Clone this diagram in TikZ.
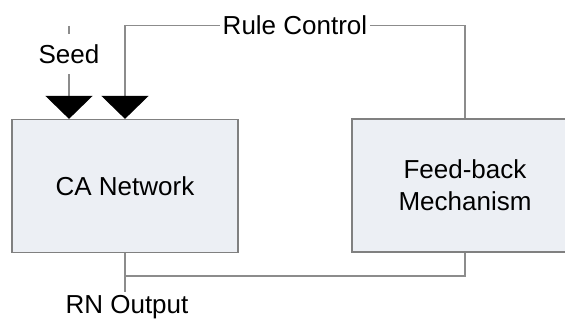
\documentclass[tikz,border=0pt]{standalone}
\usepackage{fontspec}
\setmainfont{Liberation Sans}
\usetikzlibrary{arrows.meta}
\definecolor{boxfill}{HTML}{ECEFF4}
\definecolor{boxline}{HTML}{808080}
\definecolor{wirecol}{HTML}{8C8C8C}
\begin{document}
\begin{tikzpicture}[x=1pt,y=-1pt,
  txt/.style={font=\fontsize{26}{32}\selectfont},
  box/.style={txt, draw=boxline, fill=boxfill, line width=1.2pt,
    minimum width=226pt, minimum height=133pt, inner sep=0pt, align=center},
  lbl/.style={txt, inner sep=0pt},
  wire/.style={draw=wirecol, line width=1.2pt},
  feed/.style={wire, -{Triangle[width=47pt,length=23pt,color=black]}}]
  \path[use as bounding box, clip] (0,0) rectangle (565,320);

  % blocks
  \node[box] (ca) at (125,186) {CA Network};
  \node[box] (fb) at (465,185.5) {Feed-back\\Mechanism};

  % labels
  \node[lbl, minimum height=40pt] (seed) at (69,54) {Seed};
  \node[lbl, inner xsep=3pt] (rule) at (295,25.5) {Rule Control};
  \node[lbl, inner sep=3pt, anchor=base] (rn) at (127,313.5) {RN Output};
  \coordinate (seedtop) at (69,26);
  \coordinate (jn) at (125,276);

  % seed input
  \draw[wire] (seedtop) -- (seed.north);
  \draw[feed] (seed.south) -- (seed.south |- ca.north);

  % rule control loop
  \draw[wire] (fb.north) |- (rule.east);
  \draw[feed] (rule.west) -| (ca.north);

  % output and feedback tap
  \draw[wire] (ca.south) -- (ca.south |- rn.north);
  \draw[wire] (jn) -| (fb.south);
\end{tikzpicture}
\end{document}
